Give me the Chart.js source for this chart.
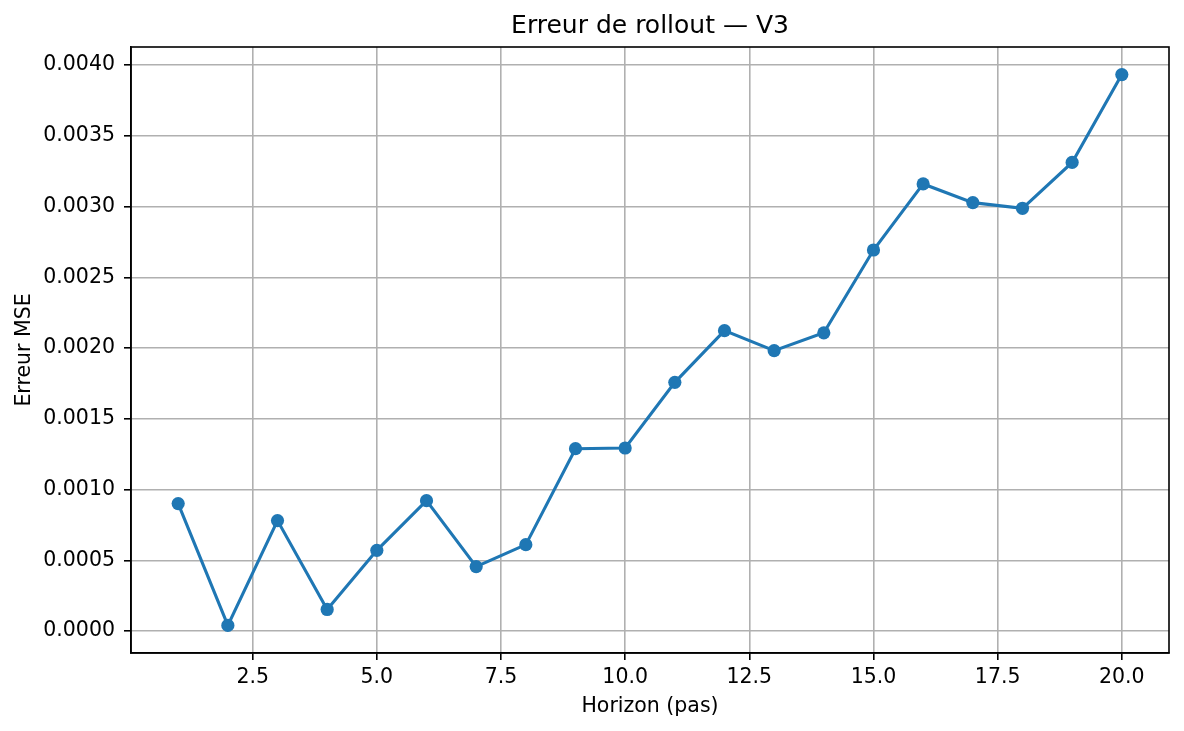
<!DOCTYPE html>
<html>
<head>
<meta charset="utf-8">
<script src="https://cdn.jsdelivr.net/npm/chart.js@4"></script>
<style>
  html, body { margin: 0; padding: 0; background: #fff; }
  canvas { display: block; }
</style>
</head>
<body>
<canvas id="rolloutChart" width="1184" height="731"></canvas>
<script>
// Erreur de rollout par horizon
const horizons = [1, 2, 3, 4, 5, 6, 7, 8, 9, 10, 11, 12, 13, 14, 15, 16, 17, 18, 19, 20];
const mseValues = [0.000901, 0.000040, 0.000781, 0.000153, 0.000571, 0.000922, 0.000456, 0.000611,
  0.001289, 0.001294, 0.001758, 0.002123, 0.001982, 0.002108, 0.002693, 0.003160, 0.003028,
  0.002988, 0.003312, 0.003933];
const xTicks = [2.5, 5.0, 7.5, 10.0, 12.5, 15.0, 17.5, 20.0];
const yTicks = [0.0000, 0.0005, 0.0010, 0.0015, 0.0020, 0.0025, 0.0030, 0.0035, 0.0040];

// marges à la matplotlib (5 %)
const xSpan = Math.max(...horizons) - Math.min(...horizons);
const ySpan = Math.max(...mseValues) - Math.min(...mseValues);
const xMin = Math.min(...horizons) - 0.05 * xSpan;
const xMax = Math.max(...horizons) + 0.05 * xSpan;
const yMin = Math.min(...mseValues) - 0.05 * ySpan;
const yMax = Math.max(...mseValues) + 0.05 * ySpan;

const FONT = 'DejaVu Sans';
const GRID = '#b0b0b0';

// cadre noir autour de la zone de tracé
const frame = {
  id: 'frame',
  afterDraw(chart) {
    const { ctx, chartArea: a } = chart;
    ctx.save();
    ctx.strokeStyle = '#000';
    ctx.lineWidth = 1.6;
    ctx.strokeRect(a.left, a.top, a.right - a.left, a.bottom - a.top);
    ctx.restore();
  }
};

const ctx = document.getElementById('rolloutChart').getContext('2d');
const chart = new Chart(ctx, {
  type: 'line',
  data: {
    datasets: [{
      data: horizons.map((h, i) => ({ x: h, y: mseValues[i] })),
      borderColor: '#1f77b4',
      backgroundColor: '#1f77b4',
      borderWidth: 3.1,
      pointRadius: 6.6,
      pointHoverRadius: 6.6,
      pointBorderWidth: 0,
      tension: 0,
      fill: false
    }]
  },
  options: {
    responsive: false,
    animation: false,
    devicePixelRatio: 1,
    layout: { padding: { left: 0, right: 15, top: 0, bottom: 0 } },
    plugins: {
      legend: { display: false },
      tooltip: { enabled: false },
      title: {
        display: true,
        text: 'Erreur de rollout — V3',
        fullSize: false,
        color: '#000',
        font: { family: FONT, size: 25, weight: 'normal' },
        padding: { top: 11, bottom: 6 }
      }
    },
    scales: {
      x: {
        type: 'linear',
        min: xMin,
        max: xMax,
        afterBuildTicks: s => { s.ticks = xTicks.map(v => ({ value: v })); },
        afterFit: s => { s.height = 78; },
        ticks: {
          color: '#000',
          font: { family: FONT, size: 20.5 },
          padding: 5,
          maxRotation: 0,
          callback: v => v.toFixed(1)
        },
        grid: { color: GRID, lineWidth: 1.6, tickLength: 7, tickColor: '#000', tickWidth: 1.6 },
        border: { display: true, color: '#000', width: 1.6 },
        title: {
          display: true,
          text: 'Horizon (pas)',
          color: '#000',
          font: { family: FONT, size: 20.5 },
          padding: { top: 0, bottom: 12.5 }
        }
      },
      y: {
        type: 'linear',
        min: yMin,
        max: yMax,
        afterBuildTicks: s => { s.ticks = yTicks.map(v => ({ value: v })); },
        afterFit: s => { s.width = 131; },
        ticks: {
          color: '#000',
          font: { family: FONT, size: 20.5 },
          padding: 9,
          callback: v => v.toFixed(4)
        },
        grid: { color: GRID, lineWidth: 1.6, tickLength: 7, tickColor: '#000', tickWidth: 1.6 },
        border: { display: true, color: '#000', width: 1.6 },
        title: {
          display: true,
          text: 'Erreur MSE',
          color: '#000',
          font: { family: FONT, size: 20.5 },
          padding: { top: 12.5, bottom: 0 }
        }
      }
    }
  },
  plugins: [frame]
});
</script>
</body>
</html>
